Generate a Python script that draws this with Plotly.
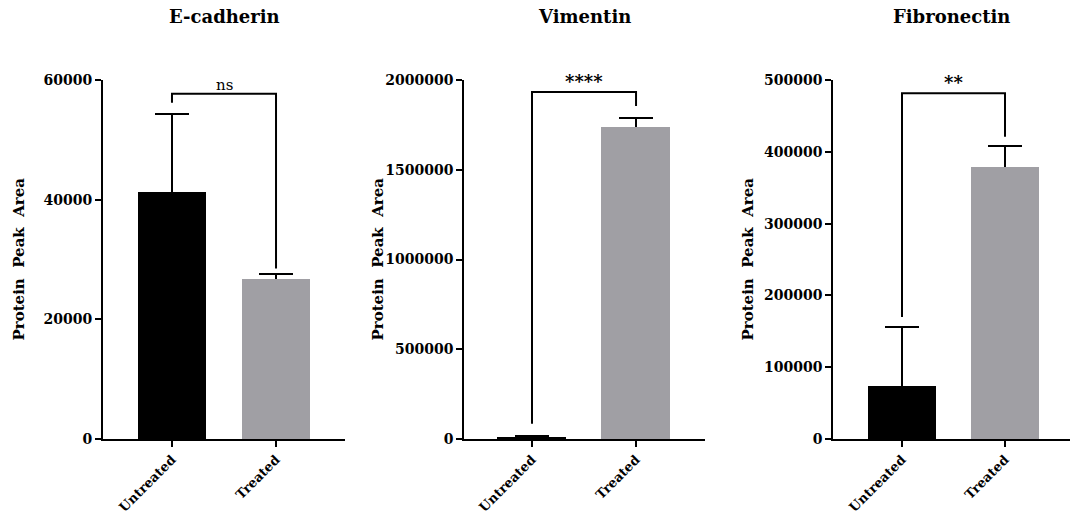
import plotly.graph_objects as go

categories = ["Untreated", "Treated"]
panel_titles = ["E-cadherin", "Vimentin", "Fibronectin"]
y_title = "Protein  Peak  Area"

ecad_mean = [41300, 26700]
ecad_err = [13000, 900]
vim_mean = [9000, 1738000]
vim_err = [10000, 50000]
fib_mean = [73500, 379500]
fib_err = [82000, 28000]

# bracket: [left leg bottom, bar height, right leg bottom]
ecad_bracket = [56200, 57700, 28500]
vim_bracket = [85000, 1933000, 1855000]
fib_bracket = [170000, 481500, 421000]
sig_labels = ["ns", "****", "**"]

y_max = [60000, 2000000, 500000]
y_dtick = [20000, 500000, 100000]

means = [ecad_mean, vim_mean, fib_mean]
errs = [ecad_err, vim_err, fib_err]
brackets = [ecad_bracket, vim_bracket, fib_bracket]

bar_colors = ["#000000", "#A09FA4"]
W, H = 1072, 517
x_dom = [(103, 345), (464.3, 705), (833.3, 1070)]
x_rng = [(-0.663, 1.663), (-0.651, 1.663), (-0.667, 1.631)]
y_dom = (1 - 439 / H, 1 - 80 / H)
ytitle_x = [18, 377, 747]

FONT = "DejaVu Serif"

fig = go.Figure()
for i in range(3):
    xa = "x" if i == 0 else f"x{i+1}"
    ya = "y" if i == 0 else f"y{i+1}"
    # error bars (upper only visible), drawn under the bars
    fig.add_trace(go.Bar(
        x=categories, y=means[i], xaxis=xa, yaxis=ya,
        marker=dict(color="rgba(0,0,0,0)", line=dict(width=0)),
        width=0.66,
        error_y=dict(type="data", array=errs[i], arrayminus=means[i], symmetric=False,
                     thickness=2, width=17, color="black"),
        showlegend=False, hoverinfo="skip"))
    fig.add_trace(go.Bar(
        x=categories, y=means[i], xaxis=xa, yaxis=ya,
        marker=dict(color=bar_colors, line=dict(width=0)),
        width=0.66, showlegend=False, hoverinfo="skip"))
    b = brackets[i]
    fig.add_trace(go.Scatter(
        x=[categories[0], categories[0], categories[1], categories[1]],
        y=[b[0], b[1], b[1], b[2]], mode="lines", xaxis=xa, yaxis=ya,
        line=dict(color="black", width=2), showlegend=False, hoverinfo="skip"))

    xkey = "xaxis" if i == 0 else f"xaxis{i+1}"
    ykey = "yaxis" if i == 0 else f"yaxis{i+1}"
    fig.layout[xkey] = dict(
        domain=[x_dom[i][0] / W, x_dom[i][1] / W], range=list(x_rng[i]),
        anchor=ya, showline=True, linecolor="black", linewidth=2,
        ticks="outside", ticklen=6, tickwidth=2, tickcolor="black",
        tickangle=-45, showgrid=False, zeroline=False, automargin=False,
        tickfont=dict(family=FONT, size=13, color="black", weight="bold"), type="category")
    fig.layout[ykey] = dict(
        domain=list(y_dom), range=[0, y_max[i]], anchor=xa,
        showline=True, linecolor="black", linewidth=2,
        ticks="outside", ticklen=6, tickwidth=2, tickcolor="black",
        dtick=y_dtick[i], tick0=0, showgrid=False, zeroline=False, automargin=False,
        tickformat="d", tickfont=dict(family=FONT, size=14, color="black", weight="bold"))

    fig.add_annotation(x=(x_dom[i][0] + x_dom[i][1]) / 2 / W, y=1 - 16 / H,
                       xref="paper", yref="paper", text=f"<b>{panel_titles[i]}</b>",
                       showarrow=False, font=dict(family=FONT, size=18, color="black"),
                       xanchor="center", yanchor="middle")
    fig.add_annotation(x=ytitle_x[i] / W, y=1 - 259.5 / H, xref="paper", yref="paper",
                       text=f"<b>{y_title}</b>", textangle=-90, showarrow=False,
                       font=dict(family=FONT, size=15, color="black"),
                       xanchor="center", yanchor="middle")
    sig_size = 15 if sig_labels[i] == "ns" else 18
    sig_text = sig_labels[i] if sig_labels[i] == "ns" else f"<b>{sig_labels[i]}</b>"
    fig.add_annotation(x=0.5, y=b[1], xref=xa, yref=ya, text=sig_text,
                       showarrow=False, yanchor="bottom", yshift=-2,
                       font=dict(family=FONT, size=sig_size, color="black"))

fig.update_layout(width=W, height=H, margin=dict(l=0, r=0, t=0, b=0),
                  plot_bgcolor="white", paper_bgcolor="white", bargap=0,
                  barmode="overlay")
fig.write_html("out.html")
